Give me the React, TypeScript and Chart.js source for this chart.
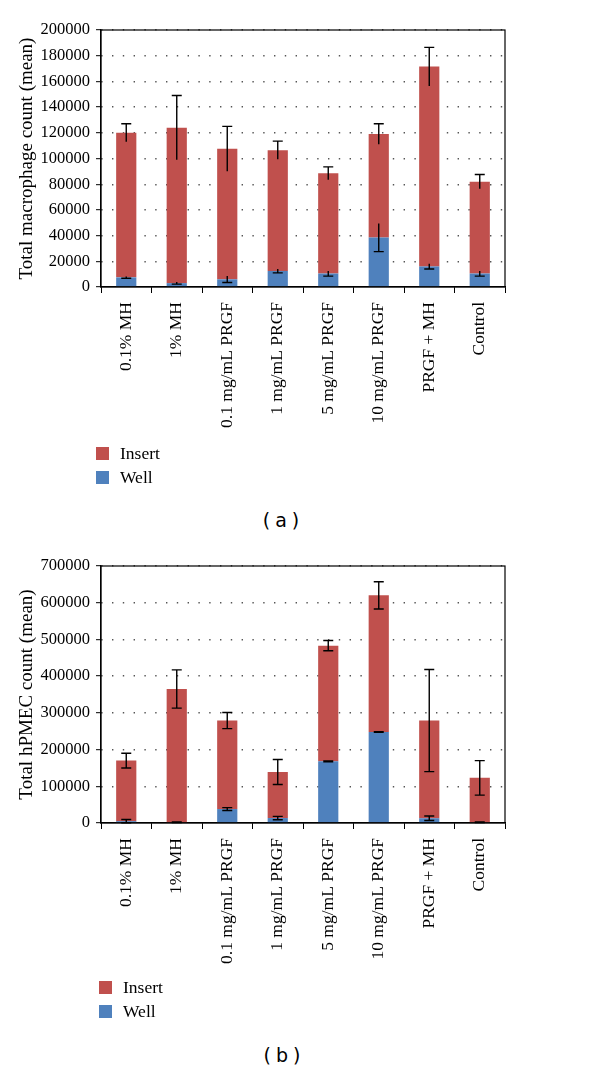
import React, { useEffect, useRef } from 'react';
import { Chart, registerables } from 'chart.js';

Chart.register(...registerables);

const CATEGORIES = [
  '0.1% MH',
  '1% MH',
  '0.1 mg/mL PRGF',
  '1 mg/mL PRGF',
  '5 mg/mL PRGF',
  '10 mg/mL PRGF',
  'PRGF + MH',
  'Control',
];

// Panel (a): total macrophage count (mean)
const MAC_TOTAL = [120000, 124000, 107500, 106500, 88500, 119000, 171500, 82000];
const MAC_TOTAL_ERR = [7000, 25000, 17500, 7000, 5000, 8000, 15000, 5500];
const MAC_WELL = [7500, 3000, 6000, 12500, 10500, 38500, 16000, 10500];
const MAC_WELL_ERR = [700, 800, 2500, 1500, 2000, 11000, 2000, 2000];

// Panel (b): total hPMEC count (mean)
const HP_TOTAL = [170000, 365000, 279000, 139000, 483000, 620000, 279000, 123000];
const HP_TOTAL_ERR = [20000, 52000, 22000, 34000, 14000, 37000, 139000, 47000];
const HP_WELL = [5000, 2000, 38000, 13500, 168000, 248000, 13000, 2000];
const HP_WELL_ERR = [4500, 1000, 4000, 4500, 1000, 1000, 6000, 1000];

const SERIES_NAMES = ['Insert', 'Well'];
const RED = '#C0504D';
const BLUE = '#4F81BD';
const SERIF = '"Liberation Serif", "Times New Roman", serif';

const CANVAS_W = 600;
const CANVAS_H = 445;
const PLOT_TOP = 30;
const PLOT_BOTTOM = 287;
const PLOT_LEFT = 101;
const PLOT_RIGHT = 505;

const framePlugin = {
  id: 'frame',
  afterDraw(chart: any) {
    const { ctx, chartArea: a } = chart;
    ctx.save();
    ctx.strokeStyle = '#000';
    ctx.lineWidth = 1.2;
    ctx.strokeRect(a.left, a.top, a.right - a.left, a.bottom - a.top);
    ctx.restore();
  },
};

const errorBarPlugin = {
  id: 'errorBars',
  afterDatasetsDraw(chart: any, _args: any, opts: any) {
    const { ctx } = chart;
    const yScale = chart.scales.y;
    const meta = chart.getDatasetMeta(0);
    const sets = (opts && opts.sets) || [];
    ctx.save();
    ctx.strokeStyle = '#000';
    ctx.lineWidth = 1.4;
    const half = 5;
    sets.forEach((s: any) => {
      s.values.forEach((v: number, i: number) => {
        const bar = meta.data[i];
        if (!bar) return;
        const x = bar.x;
        const yHi = yScale.getPixelForValue(v + s.errs[i]);
        const yLo = yScale.getPixelForValue(v - s.errs[i]);
        ctx.beginPath();
        ctx.moveTo(x, yHi);
        ctx.lineTo(x, yLo);
        if (s.capTop) {
          ctx.moveTo(x - half, yHi);
          ctx.lineTo(x + half, yHi);
        }
        if (s.capBottom) {
          ctx.moveTo(x - half, yLo);
          ctx.lineTo(x + half, yLo);
        }
        ctx.stroke();
      });
    });
    ctx.restore();
  },
};

type PanelProps = {
  top: number;
  total: number[];
  totalErr: number[];
  well: number[];
  wellErr: number[];
  yMax: number;
  yStep: number;
  yTitle: string;
  totalCaps: { top: boolean; bottom: boolean };
  wellCaps: { top: boolean; bottom: boolean };
};

function BarPanel(p: PanelProps) {
  const ref = useRef<HTMLCanvasElement | null>(null);
  useEffect(() => {
    if (!ref.current) return;
    const insert = p.total.map((t, i) => t - p.well[i]);
    const chart = new Chart(ref.current, {
      type: 'bar',
      data: {
        labels: CATEGORIES,
        datasets: [
          {
            label: SERIES_NAMES[1],
            data: p.well,
            backgroundColor: BLUE,
            barPercentage: 0.8,
            categoryPercentage: 0.5,
          },
          {
            label: SERIES_NAMES[0],
            data: insert,
            backgroundColor: RED,
            barPercentage: 0.8,
            categoryPercentage: 0.5,
          },
        ],
      },
      options: {
        animation: false,
        responsive: false,
        layout: { padding: { top: PLOT_TOP, right: CANVAS_W - PLOT_RIGHT, left: 0, bottom: 0 } },
        plugins: {
          legend: { display: false },
          tooltip: { enabled: false },
          errorBars: {
            sets: [
              { values: p.total, errs: p.totalErr, capTop: p.totalCaps.top, capBottom: p.totalCaps.bottom },
              { values: p.well, errs: p.wellErr, capTop: p.wellCaps.top, capBottom: p.wellCaps.bottom },
            ],
          },
        } as any,
        scales: {
          x: {
            stacked: true,
            offset: true,
            ticks: {
              color: '#000',
              font: { family: SERIF, size: 17.5 },
              minRotation: 90,
              maxRotation: 90,
              autoSkip: false,
              padding: 9,
            },
            grid: {
              offset: true,
              drawOnChartArea: false,
              tickLength: 6,
              tickColor: '#000',
              color: '#000',
            },
            border: { display: true, color: '#000', width: 1.2 },
            afterFit: (s: any) => {
              s.height = CANVAS_H - PLOT_BOTTOM;
            },
          },
          y: {
            stacked: true,
            min: 0,
            max: p.yMax,
            ticks: {
              stepSize: p.yStep,
              color: '#000',
              font: { family: SERIF, size: 16.5 },
              padding: 6,
              callback: (v: any) => String(v),
            },
            grid: {
              color: (c: any) => (c.tick && c.tick.value === 0 ? 'rgba(0,0,0,0)' : '#555'),
              lineWidth: 1.4,
              tickColor: '#000',
              tickLength: 5,
              tickWidth: 1,
            },
            border: { display: true, color: '#000', width: 1.2, dash: [1.4, 9.4] },
            title: {
              display: true,
              text: p.yTitle,
              color: '#000',
              font: { family: SERIF, size: 19 },
              padding: { top: 16, bottom: 0 },
            },
            afterFit: (s: any) => {
              s.width = PLOT_LEFT;
            },
          },
        },
      },
      plugins: [errorBarPlugin, framePlugin],
    } as any);
    return () => chart.destroy();
  }, []);
  return (
    <div style={{ position: 'absolute', left: 0, top: p.top, width: CANVAS_W, height: CANVAS_H }}>
      <canvas ref={ref} width={CANVAS_W} height={CANVAS_H} style={{ display: 'block' }} />
    </div>
  );
}

function Legend({ top, left }: { top: number; left: number }) {
  const rows = [
    { name: SERIES_NAMES[0], color: RED },
    { name: SERIES_NAMES[1], color: BLUE },
  ];
  return (
    <div style={{ position: 'absolute', top, left }}>
      {rows.map((r) => (
        <div
          key={r.name}
          style={{ display: 'flex', alignItems: 'center', height: 24, fontFamily: SERIF, fontSize: 17.5, color: '#000' }}
        >
          <span style={{ display: 'inline-block', width: 13, height: 13, background: r.color, marginRight: 11 }} />
          <span>{r.name}</span>
        </div>
      ))}
    </div>
  );
}

function Caption({ text, top, cx }: { text: string; top: number; cx: number }) {
  return (
    <div
      style={{
        position: 'absolute',
        top,
        left: cx - 50,
        width: 100,
        textAlign: 'center',
        fontFamily: '"DejaVu Sans", sans-serif',
        fontSize: 19,
        lineHeight: '24px',
        wordSpacing: -1,
        color: '#000',
        whiteSpace: 'pre',
      }}
    >
      {text}
    </div>
  );
}

export default function App() {
  return (
    <div style={{ position: 'absolute', left: 0, top: 0, width: 600, height: 1071, background: '#fff', overflow: 'hidden' }}>
      <BarPanel
        top={0}
        total={MAC_TOTAL}
        totalErr={MAC_TOTAL_ERR}
        well={MAC_WELL}
        wellErr={MAC_WELL_ERR}
        yMax={200000}
        yStep={20000}
        yTitle="Total macrophage count (mean)"
        totalCaps={{ top: true, bottom: false }}
        wellCaps={{ top: false, bottom: true }}
      />
      <Legend top={441} left={96} />
      <Caption text="( a )" top={508} cx={281} />
      <BarPanel
        top={536}
        total={HP_TOTAL}
        totalErr={HP_TOTAL_ERR}
        well={HP_WELL}
        wellErr={HP_WELL_ERR}
        yMax={700000}
        yStep={100000}
        yTitle="Total hPMEC count (mean)"
        totalCaps={{ top: true, bottom: true }}
        wellCaps={{ top: true, bottom: true }}
      />
      <Legend top={975} left={99} />
      <Caption text="( b )" top={1043} cx={282} />
    </div>
  );
}
